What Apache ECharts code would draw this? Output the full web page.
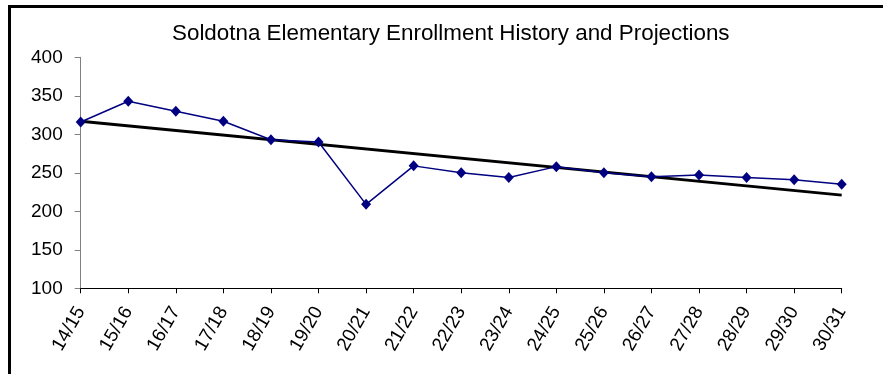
<!DOCTYPE html>
<html>
<head>
<meta charset="utf-8">
<script src="https://cdn.jsdelivr.net/npm/echarts@6/dist/echarts.min.js"></script>
<style>
html,body{margin:0;padding:0;background:#fff;}
#chart{width:883px;height:374px;}
</style>
</head>
<body>
<div id="chart"></div>
<script>
const titleText = 'Soldotna Elementary Enrollment History and Projections';
const categories = ['14/15','15/16','16/17','17/18','18/19','19/20','20/21','21/22','22/23','23/24','24/25','25/26','26/27','27/28','28/29','29/30','30/31'];
const enrollment = [316,343,330,317,293,290,209,259,250,244,258,250,245,247,244,241,235];
const trendEnds = [317, 221];
const yTicks = [100,150,200,250,300,350,400];

const trendData = categories.map((c, i) => i === 0 ? trendEnds[0] : (i === categories.length - 1 ? trendEnds[1] : null));

const chart = echarts.init(document.getElementById('chart'), null, {renderer: 'canvas'});
const font = 'Liberation Sans, Arial, sans-serif';
chart.setOption({
  animation: false,
  backgroundColor: '#fff',
  title: {
    text: titleText,
    left: 172,
    top: 23,
    padding: 0,
    textStyle: {fontFamily: font, fontSize: 22.4, fontWeight: 'normal', color: '#000'}
  },
  graphic: [{
    type: 'rect',
    shape: {x: 9.5, y: 6.5, width: 1000, height: 1000},
    style: {fill: null, stroke: '#000', lineWidth: 3},
    silent: true
  }],
  grid: {left: 80.7, right: 41.3, top: 57.3, bottom: 85.7, containLabel: false},
  xAxis: {
    type: 'category',
    data: categories,
    boundaryGap: false,
    axisLine: {lineStyle: {color: '#000', width: 1}},
    axisTick: {show: true, alignWithLabel: true, length: 5, lineStyle: {color: '#000'}},
    axisLabel: {rotate: 60, margin: 20, fontFamily: font, fontSize: 19, color: '#000', interval: 0},
    splitLine: {show: false}
  },
  yAxis: {
    type: 'value',
    min: yTicks[0],
    max: yTicks[yTicks.length - 1],
    interval: 50,
    axisLine: {show: true, lineStyle: {color: '#808080', width: 1}},
    axisTick: {show: true, length: 6, lineStyle: {color: '#808080'}},
    axisLabel: {margin: 18, fontFamily: font, fontSize: 19, color: '#000'},
    splitLine: {show: false}
  },
  series: [
    {
      name: 'Enrollment',
      type: 'line',
      data: enrollment,
      symbol: 'diamond',
      symbolSize: [10, 11],
      lineStyle: {color: '#000080', width: 1.5},
      itemStyle: {color: '#000080'},
      z: 3
    },
    {
      name: 'Trend',
      type: 'line',
      data: trendData,
      connectNulls: true,
      showSymbol: false,
      symbol: 'none',
      lineStyle: {color: '#000', width: 3},
      z: 2
    }
  ]
});
</script>
</body>
</html>
